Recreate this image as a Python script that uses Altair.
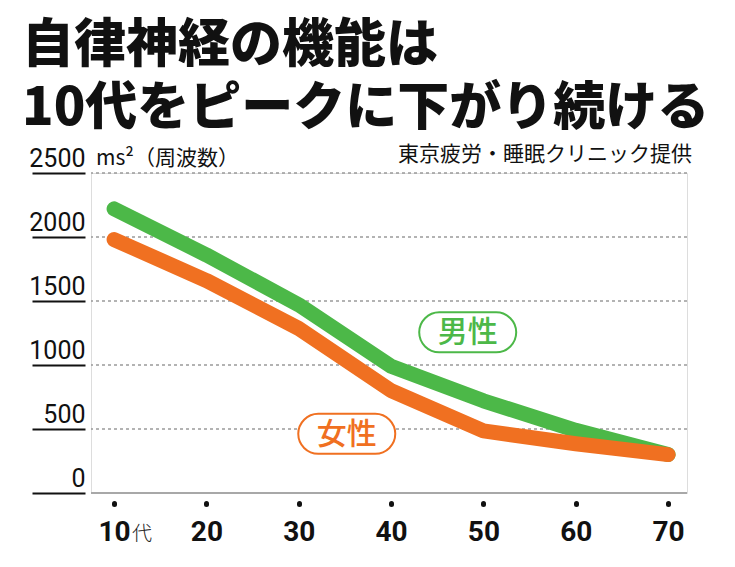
import altair as alt
import pandas as pd

# ---- data ----
ages = [10, 20, 30, 40, 50, 60, 70]
male = [2220, 1860, 1470, 990, 720, 490, 300]
female = [1980, 1660, 1285, 800, 485, 385, 300]
y_ticks = [0, 500, 1000, 1500, 2000, 2500]
grid_dotted = [500, 1000, 1500, 2000, 2500]
grid_solid = [0]

title_lines = ["自律神経の機能は", "10代をピークに下がり続ける"]
unit_text = "ms²（周波数）"
source_text = "東京疲労・睡眠クリニック提供"
first_suffix = "代"
series_names = ["男性", "女性"]
label_age = [48.3, 35.2]
label_value = [1255, 462]
colors = ["#4cb848", "#f07021"]

JP = "Noto Sans CJK JP"
NUM = "Roboto"

df_m = pd.DataFrame({"age": ages, "value": male})
df_f = pd.DataFrame({"age": ages, "value": female})

xscale = alt.Scale(domain=[7.5, 72.05], nice=False, zero=False)
yscale = alt.Scale(domain=[0, 2500], nice=False)

x_axis = alt.Axis(
    values=ages, format="d", title=None, domain=False, grid=False,
    ticks=True, tickSize=1, tickWidth=5, tickCap="round", tickColor="#111",
    offset=10, labelFont=NUM, labelFontSize=28, labelFontWeight="bold",
    labelColor="#111", labelPadding=14,
)
y_axis = alt.Axis(
    values=y_ticks, format="d", title=None, domain=False, grid=False,
    ticks=True, tickSize=53, tickWidth=2, tickColor="#111", offset=6,
    labelPadding=-53, labelAlign="right", labelBaseline="alphabetic",
    labelOffset=-7, labelFont=NUM, labelFontSize=25, labelColor="#111",
)

X = alt.X("age:Q", scale=xscale, axis=x_axis)
Y = alt.Y("value:Q", scale=yscale, axis=y_axis)

grid_d = alt.Chart(pd.DataFrame({"v": grid_dotted})).mark_rule(
    color="#9a9a9a", strokeWidth=1.5, strokeDash=[3, 3]
).encode(y=alt.Y("v:Q", scale=yscale, axis=y_axis))

grid_s = alt.Chart(pd.DataFrame({"v": grid_solid})).mark_rule(
    color="#a8a8a8", strokeWidth=2
).encode(y=alt.Y("v:Q", scale=yscale, axis=y_axis))

line_m = alt.Chart(df_m).mark_line(
    color=colors[0], strokeWidth=15, strokeCap="round", strokeJoin="round"
).encode(x=X, y=Y)

line_f = alt.Chart(df_f).mark_line(
    color=colors[1], strokeWidth=15, strokeCap="round", strokeJoin="round"
).encode(x=X, y=Y)

lab_df = pd.DataFrame({"age": label_age, "value": label_value,
                       "name": series_names, "c": colors})

boxes = alt.Chart(lab_df).mark_rect(
    width=97, height=40, cornerRadius=20, fill="white", strokeWidth=2
).encode(x=X, y=Y, stroke=alt.Color("c:N", scale=None))

lab_text = alt.Chart(lab_df).mark_text(
    font=JP, fontSize=30, fontWeight=500, baseline="middle", align="center", dy=1
).encode(x=X, y=Y, text="name:N", color=alt.Color("c:N", scale=None))

def txt(s, x, y, size, weight="normal", align="left", color="#111", font=JP):
    return alt.Chart(pd.DataFrame({"t": [s]})).mark_text(
        font=font, fontSize=size, fontWeight=weight, align=align,
        baseline="alphabetic", color=color
    ).encode(x=alt.value(x), y=alt.value(y), text="t:N")

t1 = txt(title_lines[0], -69, -111, 52, weight=900)
t2 = txt(title_lines[1], -69, -48, 52, weight=900)
unit = txt(unit_text, 5, -8, 21)
src = txt(source_text, 601, -12, 21, align="right")

suffix = alt.Chart(pd.DataFrame({"age": [ages[0]], "t": [first_suffix]})).mark_text(
    font=JP, fontSize=20, fontWeight=300, align="left", baseline="alphabetic",
    color="#222", dx=18
).encode(x=X, y=alt.value(368), text="t:N")

chart = alt.layer(
    grid_d, grid_s, line_m, line_f, boxes, lab_text, t1, t2, unit, src, suffix
).properties(
    width=596, height=320,
    autosize=alt.AutoSizeParams(type="none"),
    padding={"left": 83, "top": 165, "right": 40, "bottom": 60},
).configure_view(stroke=None).configure(background="white")

chart.save("out.html", embed_options={"renderer": "svg", "actions": False})
